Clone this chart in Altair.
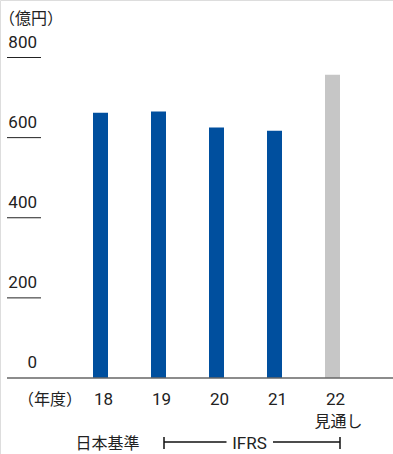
import altair as alt
import pandas as pd

# Fiscal years, values (100 million yen) and series kind
years = [18, 19, 20, 21, 22]
year_labels = ["18", "19", "20", "21", "22"]
values = [662, 665, 625, 617, 757]
kinds = ["実績", "実績", "実績", "実績", "見通し"]
y_ticks = [0, 200, 400, 600, 800]

FONT = "Roboto, 'Noto Sans CJK JP', sans-serif"
JP_FONT = "'Noto Sans CJK JP', sans-serif"
BLUE = "#004f9e"
GREY = "#c6c6c6"
TEXT = "#222222"

bars_df = pd.DataFrame({"year": years, "label": year_labels, "value": values, "kind": kinds})
ticks_df = pd.DataFrame({"tick": y_ticks})

x_scale = alt.Scale(domain=[18, 22], range=[100.5, 332.5], padding=0, nice=False, zero=False)
y_scale = alt.Scale(domain=[0, 800], range=[378, 57.5], padding=0, nice=False)

base = alt.Chart(bars_df)

bars = base.mark_bar(size=15).encode(
    x=alt.X("year:Q", scale=x_scale, axis=None),
    y=alt.Y("value:Q", scale=y_scale, axis=None),
    color=alt.Color("kind:N",
                    scale=alt.Scale(domain=["実績", "見通し"], range=[BLUE, GREY]),
                    legend=None),
)

# short gridlines under each value label
grid = alt.Chart(ticks_df).transform_filter("datum.tick > 0").mark_rule(
    stroke="#222222", strokeWidth=1
).encode(
    y=alt.Y("tick:Q", scale=y_scale, axis=None),
    x=alt.value(7), x2=alt.value(41),
)

tick_text = alt.Chart(ticks_df).mark_text(
    align="right", baseline="alphabetic", dy=-10, fontSize=17, font=FONT, color=TEXT
).encode(
    y=alt.Y("tick:Q", scale=y_scale, axis=None),
    x=alt.value(37),
    text=alt.Text("tick:Q"),
)

baseline = alt.Chart(ticks_df).transform_filter("datum.tick == 0").mark_rule(
    stroke="#666666", strokeWidth=1.5
).encode(
    y=alt.Y("tick:Q", scale=y_scale, axis=None),
    x=alt.value(7), x2=alt.value(393),
)

year_text = base.mark_text(
    baseline="middle", dx=3, fontSize=17, font=FONT, color=TEXT
).encode(
    x=alt.X("year:Q", scale=x_scale, axis=None),
    y=alt.value(400),
    text="label:N",
)

outlook_text = base.transform_filter("datum.kind == '見通し'").mark_text(
    baseline="middle", dx=6, fontSize=16, font=JP_FONT, color=TEXT
).encode(
    x=alt.X("year:Q", scale=x_scale, axis=None),
    y=alt.value(421.5),
    text="kind:N",
)

one = alt.Chart(bars_df).transform_filter("datum.year == 18")

unit_text = one.mark_text(
    baseline="middle", fontSize=16, font=JP_FONT, color=TEXT, text="（億円）"
).encode(x=alt.value(31), y=alt.value(19))

fy_text = one.mark_text(
    baseline="middle", fontSize=16, font=JP_FONT, color=TEXT, text="（年度）"
).encode(x=alt.value(50), y=alt.value(400))

jgaap_text = one.mark_text(
    baseline="middle", fontSize=16, font=JP_FONT, color=TEXT, text="日本基準"
).encode(x=alt.value(107.5), y=alt.value(443.5))

ifrs_text = one.mark_text(
    baseline="middle", fontSize=17, font=FONT, color=TEXT, text="IFRS"
).encode(x=alt.value(249.5), y=alt.value(444))

# IFRS span bracket
bracket_style = dict(stroke="#111111", strokeWidth=1.5)
br_left = one.mark_rule(**bracket_style).encode(
    x=alt.value(164), x2=alt.value(226.5), y=alt.value(442))
br_right = one.mark_rule(**bracket_style).encode(
    x=alt.value(273), x2=alt.value(340), y=alt.value(442))
br_cap_l = one.mark_rule(**bracket_style).encode(
    x=alt.value(164), y=alt.value(437), y2=alt.value(449))
br_cap_r = one.mark_rule(**bracket_style).encode(
    x=alt.value(340), y=alt.value(437), y2=alt.value(449))

chart = alt.layer(
    grid, tick_text, bars, baseline, year_text, outlook_text,
    unit_text, fy_text, jgaap_text, ifrs_text,
    br_left, br_right, br_cap_l, br_cap_r,
).properties(
    width=393, height=454, padding=0,
    autosize=alt.AutoSizeParams(type="none"),
).configure_view(stroke=None).configure(background="white")

chart.save("out.html", embed_options={"renderer": "svg", "actions": False})
